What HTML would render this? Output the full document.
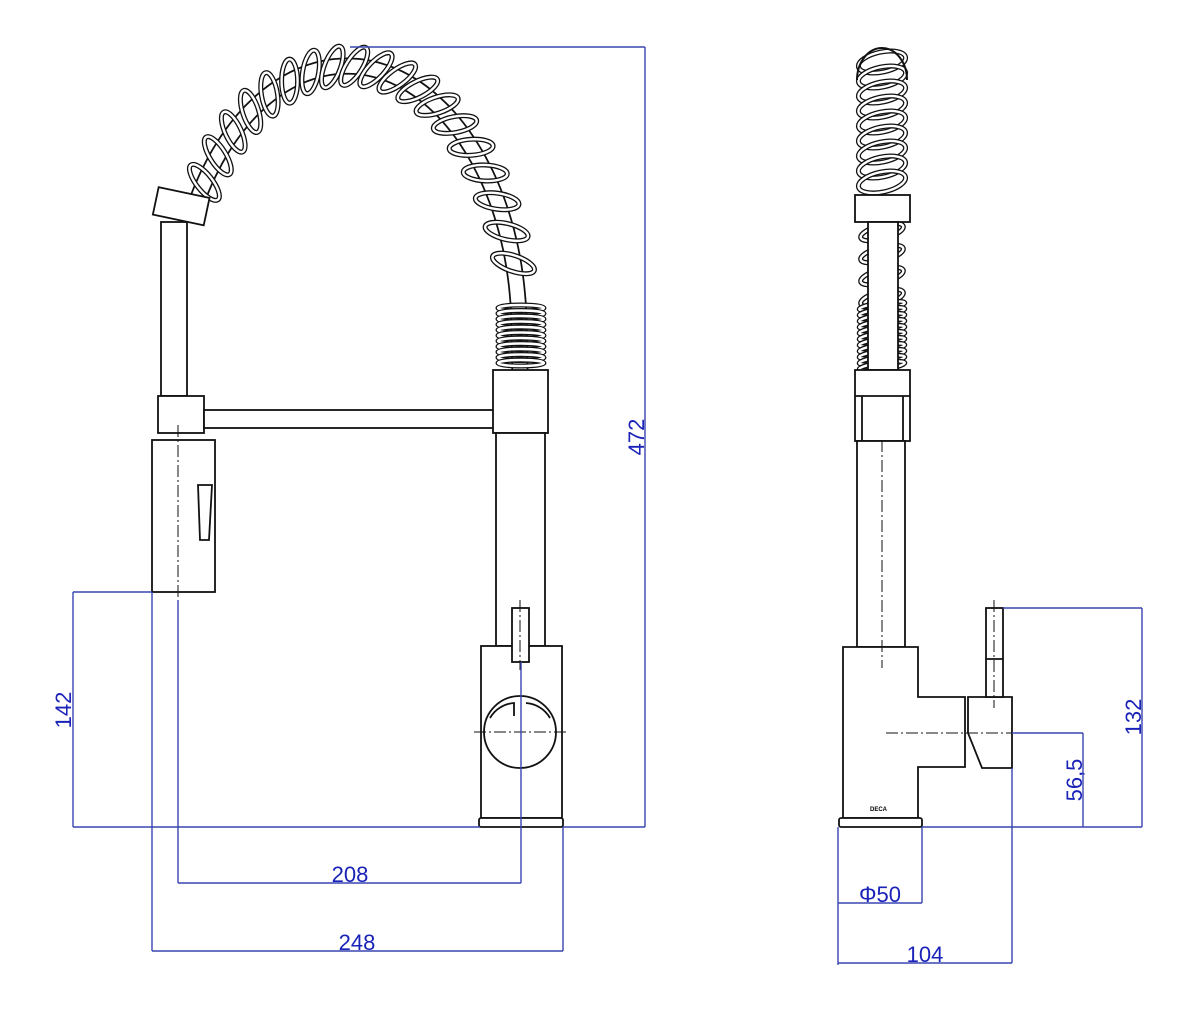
<!DOCTYPE html>
<html><head><meta charset="utf-8"><style>
html,body{margin:0;padding:0;background:#fff;}
svg{display:block;}
.k{stroke:#111;stroke-width:1.8;fill:#fff;}
.kn{stroke:#111;stroke-width:1.8;fill:none;}
.c{stroke:#111;stroke-width:1;fill:none;stroke-dasharray:12 3 2 3;}
.d{stroke:#3a45b0;stroke-width:1.4;fill:none;}
.t{font-family:"Liberation Sans",sans-serif;font-size:22px;fill:#1a22b8;}
</style></head><body>
<svg id="s" width="1200" height="1012" viewBox="0 0 1200 1012" xmlns="http://www.w3.org/2000/svg">
<g id="coils"></g>

<rect class="k" x="161" y="222" width="26" height="174"/>
<g transform="rotate(12 180 207)"><rect class="k" x="155" y="192" width="52" height="28"/></g>
<rect class="k" x="158" y="396" width="46" height="37"/>
<rect class="k" x="204" y="410" width="290" height="18"/>
<rect class="k" x="493" y="370" width="55" height="63"/>
<rect class="k" x="496" y="433" width="49" height="213"/>
<rect class="k" x="152" y="440" width="63" height="152"/>
<path class="k" d="M198 485 L212 485 L209 540 L200 540 Z"/>
<line class="c" x1="178" y1="425" x2="178" y2="600"/>
<rect class="k" x="481" y="646" width="81" height="172"/>
<rect class="k" x="479" y="818" width="84" height="9" rx="2"/>
<circle class="k" cx="520" cy="732" r="36"/>
<path class="kn" d="M490 718 A30 30 0 0 1 514 703 L514 716 M526 703 A30 30 0 0 1 550 718"/>
<rect class="k" x="512" y="608" width="17" height="54"/>
<line class="c" x1="520" y1="600" x2="520" y2="670"/>
<line class="c" x1="474" y1="732" x2="568" y2="732"/>

<rect class="k" x="855" y="195" width="55" height="27"/>
<rect class="k" x="868" y="222" width="30" height="148"/>
<rect class="k" x="855" y="370" width="55" height="71"/>
<line class="kn" x1="855" y1="396" x2="910" y2="396"/>
<line class="kn" x1="862" y1="396" x2="862" y2="441"/>
<line class="kn" x1="903" y1="396" x2="903" y2="441"/>
<rect class="k" x="857" y="441" width="48" height="206"/>
<path class="k" d="M843 647 L918 647 L918 697 L965 697 L965 767 L918 767 L918 818 L843 818 Z"/>
<path class="k" d="M968 697 L1012 697 L1012 768 L982 768 L968 733 Z"/>
<rect class="k" x="986" y="608" width="17" height="89"/>
<line class="kn" x1="986" y1="659" x2="1003" y2="659"/>
<rect class="k" x="839" y="818" width="83" height="9" rx="2"/>
<text x="870" y="811" font-family="Liberation Sans" font-size="6" font-weight="bold">DECA</text>
<line class="c" x1="882" y1="440" x2="882" y2="668"/>
<line class="c" x1="994" y1="600" x2="994" y2="708"/>
<line class="c" x1="886" y1="733" x2="1015" y2="733"/>

<g class="d">
<path d="M350 47 H645 M563 827 H645 M645 47 V827"/>
<path d="M73 592 H152 M73 827 H480 M73 592 V827"/>
<path d="M178 883 H521 M178 600 V883 M521 662 V883"/>
<path d="M152 951 H563 M152 592 V951 M563 827 V951"/>
<path d="M1003 608 H1142 M922 827 H1142 M1142 608 V827"/>
<path d="M1012 733 H1083 M1083 733 V827"/>
<path d="M838 827 V965 M922 827 V903 M838 903 H922"/>
<path d="M838 963 H1012 M1012 768 V963"/>
</g>
<text class="t" transform="translate(644 437) rotate(-90)" text-anchor="middle">472</text>
<text class="t" transform="translate(71 710) rotate(-90)" text-anchor="middle">142</text>
<text class="t" x="350" y="882" text-anchor="middle">208</text>
<text class="t" x="357" y="950" text-anchor="middle">248</text>
<text class="t" transform="translate(1141 717) rotate(-90)" text-anchor="middle">132</text>
<text class="t" transform="translate(1082 780) rotate(-90)" text-anchor="middle">56,5</text>
<text class="t" x="880" y="902" text-anchor="middle">Φ50</text>
<text class="t" x="925" y="962" text-anchor="middle">104</text>
</svg>
<script>
(function(){
var NS="http://www.w3.org/2000/svg",g=document.getElementById("coils");
function el(n,a){var e=document.createElementNS(NS,n);for(var k in a)e.setAttribute(k,a[k]);g.appendChild(e);return e;}
var cx=347,cy=330,rx=172,ry=264;
function P(a){a=a*Math.PI/180;return [cx+rx*Math.cos(a),cy-ry*Math.sin(a)];}
var d="";for(var a=150;a>=0;a-=2){var p=P(a);d+=(a==150?"M":"L")+p[0].toFixed(1)+" "+p[1].toFixed(1);}
d+="L520 372";
el("path",{d:d,stroke:"#111","stroke-width":17,fill:"none"});
el("path",{d:d,stroke:"#fff","stroke-width":13.5,fill:"none"});
function coil(x,y,ang,r1,r2){
 el("ellipse",{cx:x,cy:y,rx:r1,ry:r2,transform:"rotate("+ang+" "+x+" "+y+")",stroke:"#111","stroke-width":5,fill:"none"});
 el("ellipse",{cx:x,cy:y,rx:r1,ry:r2,transform:"rotate("+ang+" "+x+" "+y+")",stroke:"#fff","stroke-width":2.4,fill:"none"});
}
for(var a=146;a>=14;a-=7.3){
 var p=P(a),q=P(a-0.5);var tx=q[0]-p[0],ty=q[1]-p[1];
 var ang=Math.atan2(ty,tx)*180/Math.PI+90+28;coil(p[0],p[1],ang,22,8);
}
for(var y=308;y<=366;y+=5.5){coil(521,y,0,23,3);}
for(var y=62;y<=188;y+=15){coil(882,y,-12,24,10);}
for(var y=232;y<=300;y+=22){coil(882,y,-15,22,7);}
for(var y=306;y<=366;y+=6){coil(882,y,-8,23,3.5);}
el("path",{d:"M857 80 A25 32 0 0 1 907 80",stroke:"#111","stroke-width":2,fill:"none"});
})();
</script>
</body></html>
